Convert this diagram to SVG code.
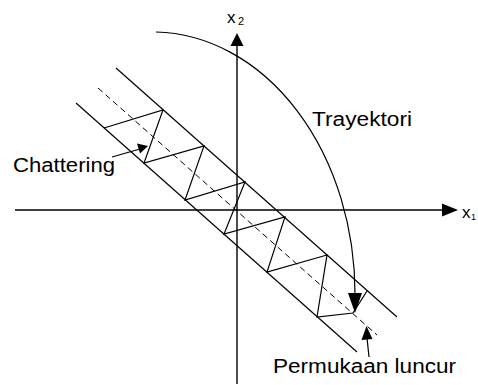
<svg xmlns="http://www.w3.org/2000/svg" width="478" height="385" viewBox="0 0 478 385">
<style>
.ln{stroke:#000;stroke-width:1.2;fill:none}
.ax{stroke:#000;stroke-width:1.4;fill:none}
.ds{stroke:#000;stroke-width:1;fill:none;stroke-dasharray:6,4}
.t{font-family:"Liberation Sans",Arial,sans-serif;font-size:19.5px;fill:#000}
.ah{fill:#000;stroke:none}
</style>
<rect width="478" height="385" fill="#fff"/>
<g id="axes">
<line class="ax" x1="15" y1="210" x2="444" y2="210"/>
<polygon class="ah" points="458,210 442,203.5 442,216.5"/>
<line class="ax" x1="237" y1="45" x2="237" y2="384"/>
<polygon class="ah" points="237,33 230.5,46 243.5,46"/>
<text class="t" x="227" y="23" style="font-size:17px">x</text>
<text class="t" x="238" y="25" style="font-size:11px">2</text>
<text class="t" x="462" y="218" style="font-size:17px">x</text>
<text class="t" x="471" y="220" style="font-size:9px">1</text>
</g>
<g id="band">
<line class="ln" x1="116" y1="68" x2="397" y2="317"/>
<line class="ln" x1="76" y1="103" x2="357" y2="352"/>
<line class="ds" x1="98" y1="88" x2="377" y2="335"/>
</g>
<g id="chattering-path">
<polyline class="ln" points="104,128 163,110 144,163 204,146 185,200 245,182 224,234 285,217 267,272 327,255 317,317 353,313 367,291"/>
</g>
<g id="connectors">
<path class="ln" d="M156,32 A203,262 0 0 1 355,294"/>
<polygon class="ah" points="348,293 362,293 355,313"/>
<line class="ln" x1="112" y1="157" x2="140" y2="149"/>
<polygon class="ah" points="148,146 137,143.5 140,153.5"/>
<line class="ln" x1="369" y1="357" x2="367" y2="338"/>
<polygon class="ah" points="366.5,326 361.5,340 372.5,339"/>
</g>
<g id="label-chattering"><text class="t" x="13" y="172" textLength="102" lengthAdjust="spacingAndGlyphs">Chattering</text></g>
<g id="label-trayektori"><text class="t" x="312" y="126" textLength="100" lengthAdjust="spacingAndGlyphs">Trayektori</text></g>
<g id="label-permukaan"><text class="t" x="273" y="373" textLength="183" lengthAdjust="spacingAndGlyphs">Permukaan luncur</text></g>
</svg>
